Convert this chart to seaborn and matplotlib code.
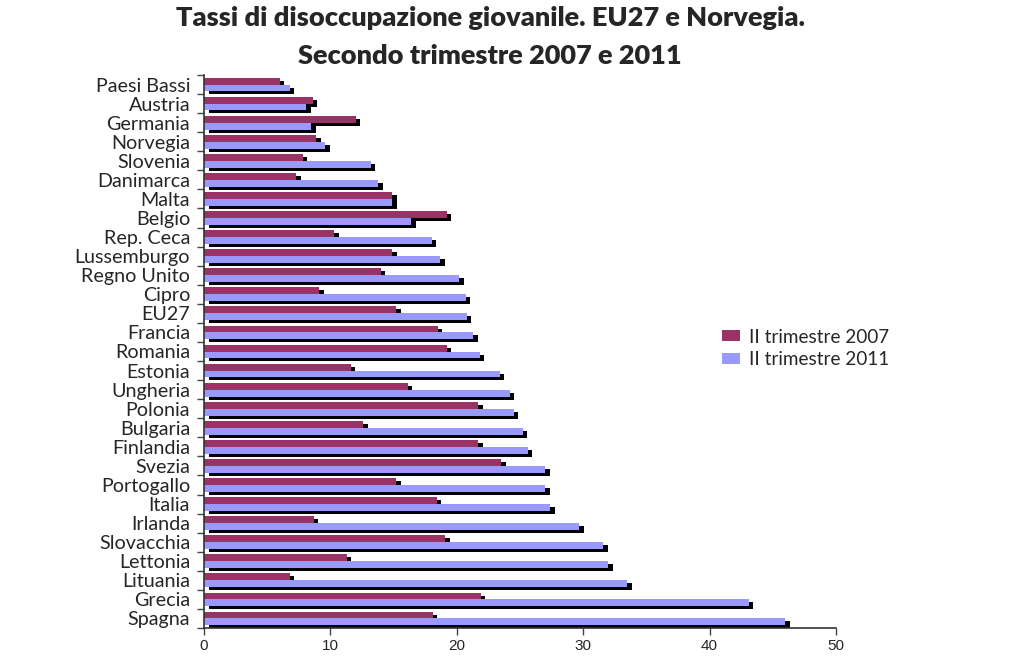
import numpy as np
import pandas as pd
import matplotlib
matplotlib.use("Agg")
import matplotlib.pyplot as plt
import matplotlib.transforms as mtransforms
from matplotlib.patches import Patch
import seaborn as sns

countries = ["Paesi Bassi", "Austria", "Germania", "Norvegia", "Slovenia", "Danimarca",
             "Malta", "Belgio", "Rep. Ceca", "Lussemburgo", "Regno Unito", "Cipro", "EU27",
             "Francia", "Romania", "Estonia", "Ungheria", "Polonia", "Bulgaria", "Finlandia",
             "Svezia", "Portogallo", "Italia", "Irlanda", "Slovacchia", "Lettonia", "Lituania",
             "Grecia", "Spagna"]
q2_2007 = [6.0, 8.6, 12.0, 8.9, 7.8, 7.3, 14.9, 19.2, 10.3, 14.9, 14.0, 9.1, 15.2,
           18.5, 19.2, 11.6, 16.1, 21.7, 12.6, 21.7, 23.5, 15.2, 18.4, 8.7, 19.1, 11.3,
           6.8, 21.9, 18.1]
q2_2011 = [6.8, 8.1, 8.5, 9.6, 13.2, 13.8, 14.9, 16.4, 18.0, 18.7, 20.2, 20.7, 20.8,
           21.3, 21.8, 23.4, 24.2, 24.5, 25.2, 25.6, 27.0, 27.0, 27.4, 29.7, 31.6, 32.0,
           33.5, 43.1, 46.0]
series = ["II trimestre 2007", "II trimestre 2011"]
x_ticks = [0, 10, 20, 30, 40, 50]
title = "Tassi di disoccupazione giovanile. EU27 e Norvegia.\nSecondo trimestre 2007 e 2011"

colors = ["#993366", "#9999FF"]

df = pd.DataFrame({
    "paese": countries * 2,
    "valore": q2_2007 + q2_2011,
    "serie": [series[0]] * len(countries) + [series[1]] * len(countries),
})

sns.set_style("white")
plt.rcParams["font.family"] = ["Lato", "DejaVu Sans"]

fig = plt.figure(figsize=(10.23, 6.70), dpi=100)
ax = fig.add_axes([204 / 1023, 1 - 628 / 670, (836 - 204) / 1023, (628 - 75) / 670])

# shadow bars
sns.barplot(data=df, x="valore", y="paese", hue="serie", palette=["black", "black"],
            orient="h", width=0.72, ax=ax, legend=False, saturation=1, errorbar=None)
n_shadow = len(ax.patches)
off = mtransforms.offset_copy(ax.transData, fig=fig, x=4.5, y=-3, units="dots")
for p in ax.patches[:n_shadow]:
    p.set_transform(off)
    p.set_linewidth(0)

sns.barplot(data=df, x="valore", y="paese", hue="serie", palette=colors,
            orient="h", width=0.72, ax=ax, legend=False, saturation=1, errorbar=None)
for p in ax.patches[n_shadow:]:
    p.set_linewidth(0)

ax.set_xlim(0, 50)
ax.set_ylim(len(countries) - 0.5, -0.5)
ax.set_xticks(x_ticks)
ax.set_xticklabels([str(t) for t in x_ticks], family="Liberation Sans", fontsize=11)
ax.set_yticks(range(len(countries)))
ax.set_yticklabels(countries, fontsize=14.2)
ax.set_yticks(np.arange(-0.5, len(countries)), minor=True)
ax.tick_params(axis="y", which="major", length=0, pad=10)
ax.tick_params(axis="y", which="minor", length=5, width=1, color="#444444", direction="out", left=True)
ax.tick_params(axis="x", length=5, width=1, color="#444444", direction="out", bottom=True, pad=3)
ax.set_xlabel("")
ax.set_ylabel("")
for s in ["top", "right"]:
    ax.spines[s].set_visible(False)
for s in ["left", "bottom"]:
    ax.spines[s].set_color("#333333")
    ax.spines[s].set_linewidth(1.2)
ax.grid(False)

handles = [Patch(facecolor=c, edgecolor="none") for c in colors]
fig.legend(handles, series, loc="upper left", bbox_to_anchor=(714 / 1023, 1 - 321 / 670),
           frameon=False, fontsize=13.6, handlelength=1.0, handleheight=0.5,
           handletextpad=0.45, labelspacing=0.3, borderaxespad=0)

fig.text(490 / 1023, 1 - 6 / 670, title, ha="center", va="top", fontsize=19.5,
         fontweight="heavy", linespacing=1.68)

fig.savefig("out.png", dpi=100)
